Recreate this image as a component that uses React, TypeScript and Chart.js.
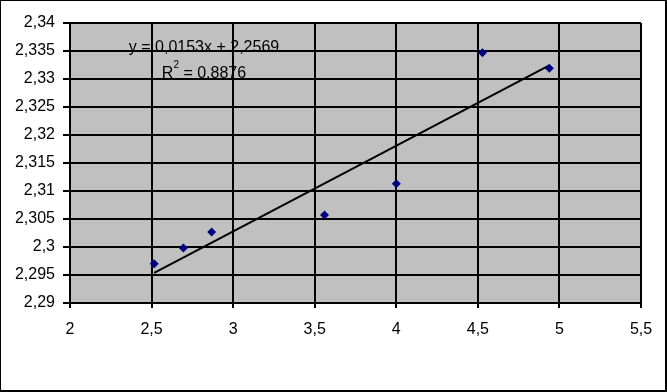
import React, { useEffect, useRef } from "react";
import { Chart, registerables } from "chart.js";

Chart.register(...registerables);

// Data
const X_VALUES = [2.516, 2.695, 2.868, 3.56, 4.0, 4.528, 4.938];
const Y_VALUES = [2.297, 2.2998, 2.3027, 2.3057, 2.3113, 2.3347, 2.3319];

// Trend line (as printed on the chart)
const TREND_SLOPE = 0.0153;
const TREND_INTERCEPT = 2.2569;
const TREND_EQUATION = "y = 0,0153x + 2,2569";
const TREND_R2_PREFIX = "R";
const TREND_R2_VALUE = " = 0,8876";

// Axis ticks
const X_TICK_LABELS = ["2", "2,5", "3", "3,5", "4", "4,5", "5", "5,5"];
const Y_TICK_LABELS = [
  "2,29", "2,295", "2,3", "2,305", "2,31", "2,315",
  "2,32", "2,325", "2,33", "2,335", "2,34",
];

const FONT = "'Liberation Sans', Arial, sans-serif";

export default function App() {
  const ref = useRef<HTMLCanvasElement | null>(null);

  useEffect(() => {
    if (!ref.current) return;
    const points = X_VALUES.map((x, i) => ({ x, y: Y_VALUES[i] }));
    const xMin = Math.min(...X_VALUES);
    const xMax = Math.max(...X_VALUES);
    const trend = [
      { x: xMin, y: TREND_SLOPE * xMin + TREND_INTERCEPT },
      { x: xMax, y: TREND_SLOPE * xMax + TREND_INTERCEPT },
    ];

    const bgPlugin = {
      id: "bg",
      beforeDraw(chart: any) {
        const { ctx, chartArea: a, width, height } = chart;
        ctx.save();
        ctx.fillStyle = "#ffffff";
        ctx.fillRect(0, 0, width, height);
        ctx.fillStyle = "#c0c0c0";
        ctx.fillRect(a.left, a.top, a.right - a.left, a.bottom - a.top);
        ctx.restore();
      },
      afterDraw(chart: any) {
        const { ctx, chartArea: a, width, height } = chart;
        ctx.save();
        // equation label
        ctx.fillStyle = "#000000";
        ctx.textBaseline = "alphabetic";
        ctx.font = `16px ${FONT}`;
        ctx.textAlign = "center";
        const cx = a.left + 134;
        ctx.fillText(TREND_EQUATION, cx, a.top + 29);
        // R^2 line
        ctx.font = `16px ${FONT}`;
        const wR = ctx.measureText(TREND_R2_PREFIX).width;
        const wV = ctx.measureText(TREND_R2_VALUE).width;
        ctx.font = `10px ${FONT}`;
        const w2 = ctx.measureText("2").width;
        const total = wR + w2 + wV;
        let x0 = cx - total / 2;
        ctx.textAlign = "left";
        ctx.font = `16px ${FONT}`;
        ctx.fillText(TREND_R2_PREFIX, x0, a.top + 55);
        ctx.font = `10px ${FONT}`;
        ctx.fillText("2", x0 + wR, a.top + 45);
        ctx.font = `16px ${FONT}`;
        ctx.fillText(TREND_R2_VALUE, x0 + wR + w2, a.top + 55);
        // outer border
        ctx.fillStyle = "#000000";
        ctx.fillRect(0, 0, width, 1);
        ctx.fillRect(0, 0, 1, height);
        ctx.fillRect(width - 2, 0, 2, height);
        ctx.fillRect(0, height - 2, width, 2);
        ctx.restore();
      },
    };

    const chart = new Chart(ref.current, {
      type: "scatter",
      data: {
        datasets: [
          {
            label: "data",
            data: points,
            pointStyle: "rectRot",
            pointRadius: 4.5,
            pointBackgroundColor: "#000080",
            pointBorderColor: "#000080",
            pointBorderWidth: 0,
            showLine: false,
          },
          {
            label: "trend",
            data: trend,
            showLine: true,
            borderColor: "#000000",
            borderWidth: 2,
            pointRadius: 0,
            fill: false,
          } as any,
        ],
      },
      options: {
        animation: false,
        responsive: false,
        maintainAspectRatio: false,
        layout: { padding: { top: 23, right: 26, left: 0, bottom: 0 } },
        plugins: {
          legend: { display: false },
          tooltip: { enabled: false },
        },
        scales: {
          x: {
            type: "linear",
            min: 2,
            max: 5.5,
            afterFit: (s: any) => { s.height = 89; },
            ticks: {
              stepSize: 0.5,
              color: "#000000",
              font: { family: FONT, size: 16 },
              padding: 12,
              maxRotation: 0,
              callback: (_v: any, i: number) => X_TICK_LABELS[i],
            },
            grid: { color: "#000000", lineWidth: 2, tickLength: 5, drawTicks: true },
            border: { color: "#000000", width: 2 },
          },
          y: {
            type: "linear",
            min: 2.29,
            max: 2.34,
            afterFit: (s: any) => { s.width = 70; },
            ticks: {
              stepSize: 0.005,
              color: "#000000",
              font: { family: FONT, size: 16 },
              padding: 8,
              callback: (_v: any, i: number) => Y_TICK_LABELS[i],
            },
            grid: { color: "#000000", lineWidth: 2, tickLength: 7, drawTicks: true },
            border: { color: "#000000", width: 2 },
          },
        },
      },
      plugins: [bgPlugin],
    });
    return () => chart.destroy();
  }, []);

  return (
    <div style={{ position: "fixed", left: 0, top: 0, width: 667, height: 392, background: "#fff" }}>
      <canvas ref={ref} width={667} height={392} style={{ display: "block", width: 667, height: 392 }} />
    </div>
  );
}
